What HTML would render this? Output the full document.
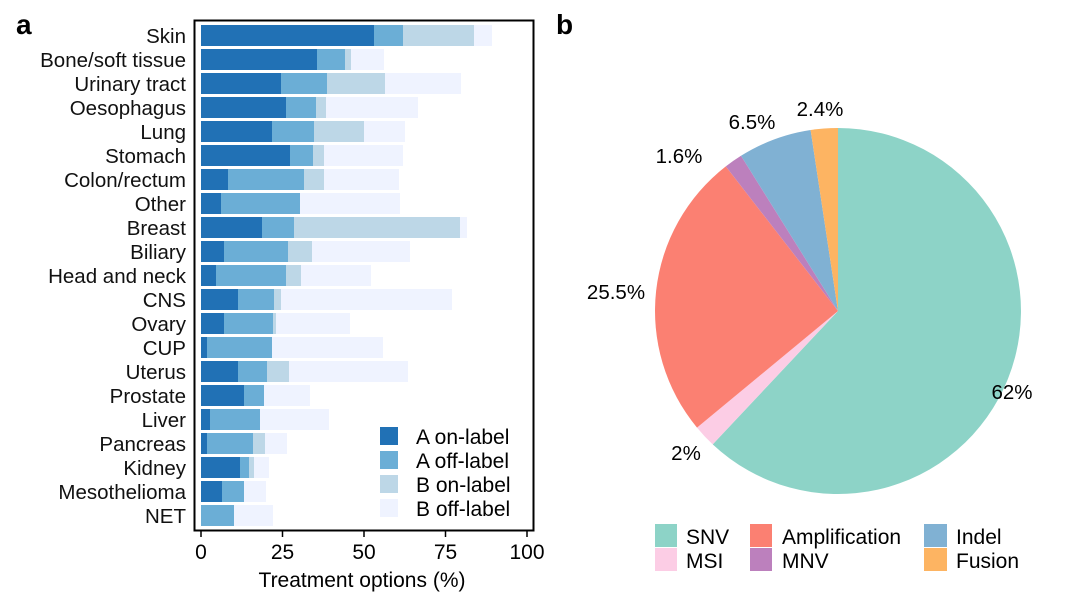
<!DOCTYPE html>
<html><head><meta charset="utf-8"><style>
body{margin:0;background:#fff;}
svg{display:block;font-family:"Liberation Sans",Arial,sans-serif;}
</style></head><body>
<svg width="1080" height="600" viewBox="0 0 1080 600">
<text x="16" y="34" font-size="28" font-weight="bold">a</text>
<text x="556" y="34" font-size="28" font-weight="bold">b</text>
<g font-size="20.5" text-anchor="end" fill="#111">
<text x="186" y="43">Skin</text>
<text x="186" y="67">Bone/soft tissue</text>
<text x="186" y="91">Urinary tract</text>
<text x="186" y="115">Oesophagus</text>
<text x="186" y="139">Lung</text>
<text x="186" y="163">Stomach</text>
<text x="186" y="187">Colon/rectum</text>
<text x="186" y="211">Other</text>
<text x="186" y="235">Breast</text>
<text x="186" y="259">Biliary</text>
<text x="186" y="283">Head and neck</text>
<text x="186" y="307">CNS</text>
<text x="186" y="331">Ovary</text>
<text x="186" y="355">CUP</text>
<text x="186" y="379">Uterus</text>
<text x="186" y="403">Prostate</text>
<text x="186" y="427">Liver</text>
<text x="186" y="451">Pancreas</text>
<text x="186" y="475">Kidney</text>
<text x="186" y="499">Mesothelioma</text>
<text x="186" y="523">NET</text>
</g>
<g>
<rect x="201" y="25" width="291" height="21" fill="#eff3ff"/><rect x="201" y="25" width="273" height="21" fill="#bdd7e7"/><rect x="201" y="25" width="202" height="21" fill="#6baed6"/><rect x="201" y="25" width="173" height="21" fill="#2171b5"/>
<rect x="201" y="49" width="183" height="21" fill="#eff3ff"/><rect x="201" y="49" width="150" height="21" fill="#bdd7e7"/><rect x="201" y="49" width="144" height="21" fill="#6baed6"/><rect x="201" y="49" width="116" height="21" fill="#2171b5"/>
<rect x="201" y="73" width="260" height="21" fill="#eff3ff"/><rect x="201" y="73" width="184" height="21" fill="#bdd7e7"/><rect x="201" y="73" width="126" height="21" fill="#6baed6"/><rect x="201" y="73" width="80" height="21" fill="#2171b5"/>
<rect x="201" y="97" width="217" height="21" fill="#eff3ff"/><rect x="201" y="97" width="125" height="21" fill="#bdd7e7"/><rect x="201" y="97" width="115" height="21" fill="#6baed6"/><rect x="201" y="97" width="85" height="21" fill="#2171b5"/>
<rect x="201" y="121" width="204" height="21" fill="#eff3ff"/><rect x="201" y="121" width="163" height="21" fill="#bdd7e7"/><rect x="201" y="121" width="113" height="21" fill="#6baed6"/><rect x="201" y="121" width="71" height="21" fill="#2171b5"/>
<rect x="201" y="145" width="202" height="21" fill="#eff3ff"/><rect x="201" y="145" width="123" height="21" fill="#bdd7e7"/><rect x="201" y="145" width="112" height="21" fill="#6baed6"/><rect x="201" y="145" width="89" height="21" fill="#2171b5"/>
<rect x="201" y="169" width="198" height="21" fill="#eff3ff"/><rect x="201" y="169" width="123" height="21" fill="#bdd7e7"/><rect x="201" y="169" width="103" height="21" fill="#6baed6"/><rect x="201" y="169" width="27" height="21" fill="#2171b5"/>
<rect x="201" y="193" width="199" height="21" fill="#eff3ff"/><rect x="201" y="193" width="99" height="21" fill="#6baed6"/><rect x="201" y="193" width="20" height="21" fill="#2171b5"/>
<rect x="201" y="217" width="266" height="21" fill="#eff3ff"/><rect x="201" y="217" width="259" height="21" fill="#bdd7e7"/><rect x="201" y="217" width="93" height="21" fill="#6baed6"/><rect x="201" y="217" width="61" height="21" fill="#2171b5"/>
<rect x="201" y="241" width="209" height="21" fill="#eff3ff"/><rect x="201" y="241" width="111" height="21" fill="#bdd7e7"/><rect x="201" y="241" width="87" height="21" fill="#6baed6"/><rect x="201" y="241" width="23" height="21" fill="#2171b5"/>
<rect x="201" y="265" width="170" height="21" fill="#eff3ff"/><rect x="201" y="265" width="100" height="21" fill="#bdd7e7"/><rect x="201" y="265" width="85" height="21" fill="#6baed6"/><rect x="201" y="265" width="15" height="21" fill="#2171b5"/>
<rect x="201" y="289" width="251" height="21" fill="#eff3ff"/><rect x="201" y="289" width="80" height="21" fill="#bdd7e7"/><rect x="201" y="289" width="73" height="21" fill="#6baed6"/><rect x="201" y="289" width="37" height="21" fill="#2171b5"/>
<rect x="201" y="313" width="149" height="21" fill="#eff3ff"/><rect x="201" y="313" width="75" height="21" fill="#bdd7e7"/><rect x="201" y="313" width="72" height="21" fill="#6baed6"/><rect x="201" y="313" width="23" height="21" fill="#2171b5"/>
<rect x="201" y="337" width="182" height="21" fill="#eff3ff"/><rect x="201" y="337" width="71" height="21" fill="#6baed6"/><rect x="201" y="337" width="6" height="21" fill="#2171b5"/>
<rect x="201" y="361" width="207" height="21" fill="#eff3ff"/><rect x="201" y="361" width="88" height="21" fill="#bdd7e7"/><rect x="201" y="361" width="66" height="21" fill="#6baed6"/><rect x="201" y="361" width="37" height="21" fill="#2171b5"/>
<rect x="201" y="385" width="109" height="21" fill="#eff3ff"/><rect x="201" y="385" width="63" height="21" fill="#6baed6"/><rect x="201" y="385" width="43" height="21" fill="#2171b5"/>
<rect x="201" y="409" width="128" height="21" fill="#eff3ff"/><rect x="201" y="409" width="59" height="21" fill="#6baed6"/><rect x="201" y="409" width="9" height="21" fill="#2171b5"/>
<rect x="201" y="433" width="86" height="21" fill="#eff3ff"/><rect x="201" y="433" width="64" height="21" fill="#bdd7e7"/><rect x="201" y="433" width="52" height="21" fill="#6baed6"/><rect x="201" y="433" width="6" height="21" fill="#2171b5"/>
<rect x="201" y="457" width="68" height="21" fill="#eff3ff"/><rect x="201" y="457" width="53" height="21" fill="#bdd7e7"/><rect x="201" y="457" width="48" height="21" fill="#6baed6"/><rect x="201" y="457" width="39" height="21" fill="#2171b5"/>
<rect x="201" y="481" width="65" height="21" fill="#eff3ff"/><rect x="201" y="481" width="43" height="21" fill="#6baed6"/><rect x="201" y="481" width="21" height="21" fill="#2171b5"/>
<rect x="201" y="505" width="72" height="21" fill="#eff3ff"/><rect x="201" y="505" width="33" height="21" fill="#6baed6"/>
</g>
<rect x="194.5" y="20.5" width="339" height="510" fill="none" stroke="#000" stroke-width="2"/>
<g stroke="#000" stroke-width="1.5">
<line x1="201" y1="531" x2="201" y2="537"/><line x1="282.5" y1="531" x2="282.5" y2="537"/>
<line x1="364" y1="531" x2="364" y2="537"/><line x1="445.5" y1="531" x2="445.5" y2="537"/>
<line x1="527" y1="531" x2="527" y2="537"/></g>
<g font-size="21" text-anchor="middle">
<text x="201" y="559">0</text><text x="282.5" y="559">25</text><text x="364" y="559">50</text>
<text x="445.5" y="559">75</text><text x="527" y="559">100</text>
<text x="362" y="587">Treatment options (%)</text></g>
<g font-size="21">
<rect x="380" y="427" width="18" height="18" fill="#2171b5"/><text x="416" y="444">A on-label</text>
<rect x="380" y="451" width="18" height="18" fill="#6baed6"/><text x="416" y="468">A off-label</text>
<rect x="380" y="475" width="18" height="18" fill="#bdd7e7"/><text x="416" y="492">B on-label</text>
<rect x="380" y="499" width="18" height="18" fill="#eff3ff"/><text x="416" y="516">B off-label</text>
</g>
<g>
<path d="M838,311 L838,128 A183,183 0 1 1 712.7,444.4 Z" fill="#8dd3c7"/>
<path d="M838,311 L712.7,444.4 A183,183 0 0 1 697,427.6 Z" fill="#fccde5"/>
<path d="M838,311 L697,427.6 A183,183 0 0 1 725.8,166.4 Z" fill="#fb8072"/>
<path d="M838,311 L725.8,166.4 A183,183 0 0 1 741,155.8 Z" fill="#bc80bd"/>
<path d="M838,311 L741,155.8 A183,183 0 0 1 810.6,130 Z" fill="#80b1d3"/>
<path d="M838,311 L810.6,130 A183,183 0 0 1 838,128 Z" fill="#fdb462"/>
</g>
<g font-size="20.5" text-anchor="middle">
<text x="1012" y="399">62%</text><text x="616" y="299">25.5%</text>
<text x="686" y="460">2%</text><text x="679" y="163">1.6%</text>
<text x="752" y="129">6.5%</text><text x="820" y="116">2.4%</text></g>
<g font-size="21">
<rect x="655" y="524" width="22" height="23" fill="#8dd3c7"/><text x="686" y="544">SNV</text>
<rect x="655" y="548" width="22" height="23" fill="#fccde5"/><text x="686" y="568">MSI</text>
<rect x="750" y="524" width="22" height="23" fill="#fb8072"/><text x="782" y="544">Amplification</text>
<rect x="750" y="548" width="22" height="23" fill="#bc80bd"/><text x="782" y="568">MNV</text>
<rect x="924" y="524" width="23" height="23" fill="#80b1d3"/><text x="956" y="544">Indel</text>
<rect x="924" y="548" width="23" height="23" fill="#fdb462"/><text x="956" y="568">Fusion</text>
</g>
</svg>
</body></html>
